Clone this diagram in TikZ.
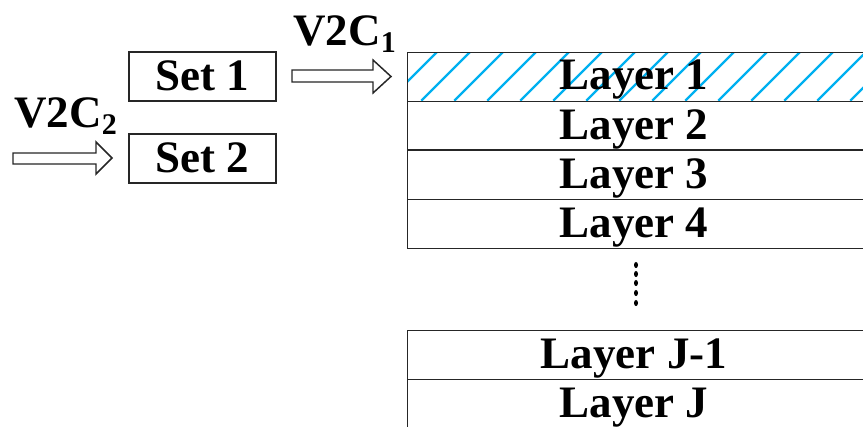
\documentclass[tikz,border=0pt]{standalone}
\usepackage{fontspec}
\setmainfont{Liberation Serif}
\newcommand{\subsz}{\fontsize{22.5}{24}\selectfont}
\definecolor{hatchblue}{RGB}{0,176,240}
\begin{document}
\begin{tikzpicture}[x=0.75pt,y=-0.75pt,
  box/.style={draw=black!85,line width=1.1pt,inner sep=0pt},
  rowbox/.style={box,anchor=north west,minimum width=360pt,minimum height=36.5pt},
  setbox/.style={box,minimum width=110.25pt,minimum height=36.75pt},
  lbl/.style={font=\fontsize{33.75}{36}\selectfont\bfseries,inner sep=0pt},
  blockarrow/.style={draw=black!85,line width=1.1pt,fill=white,line join=miter},
  hatchline/.style={draw=hatchblue,line width=1.7pt}]
\useasboundingbox (0,0) rectangle (863,426);
\clip (0,0) rectangle (863,426);

% diagonal hatching of the first layer
\begin{scope}
  \clip (407,52) rectangle (900,100.7);
  \foreach \k in {-1,...,14}
    \draw[hatchline] ({437+33*\k},52) -- ({437+33*\k-48.7},100.7);
\end{scope}

% layer rows (open on the right)
\node[rowbox] (l1) at (407,52) {};
\node[rowbox] (l2) at (407,100.7) {};
\node[rowbox] (l3) at (407,150) {};
\node[rowbox] (l4) at (407,199) {};
\node[rowbox] (lj1) at (407,330) {};
\node[rowbox] (lj) at (407,379) {};

% layer captions
\node[lbl,anchor=base] (t1) at (634,89.7) {Layer 1};
\node[lbl,anchor=base] (t2) at (634,139) {Layer 2};
\node[lbl,anchor=base] (t3) at (634,188) {Layer 3};
\node[lbl,anchor=base] (t4) at (634,237) {Layer 4};
\node[lbl,anchor=base] (tj1) at (634,368) {Layer J-1};
\node[lbl,anchor=base] (tj) at (634,417) {Layer J};

% vertical ellipsis between the layer groups
\foreach \y in {265,274,283,293,303}
  \fill (636,\y) ellipse (1.5pt and 2.3pt);

% the two sets
\node[setbox] (s1) at (202.5,76.5) {};
\node[setbox] (s2) at (202.5,158.5) {};
\node[lbl,anchor=base] (ts1) at (202,90) {Set 1};
\node[lbl,anchor=base] (ts2) at (202,172) {Set 2};

% block arrows
\draw[blockarrow] (292,70) -- (373,70) -- (373,60) -- (391,76.5) -- (373,93)
  -- (373,82) -- (292,82) -- cycle;
\draw[blockarrow] (13,153) -- (96,153) -- (96,142) -- (112,158) -- (96,174)
  -- (96,164) -- (13,164) -- cycle;

% arrow labels
\node[lbl,anchor=base west] (v1) at (293,45) {V2C\raisebox{-5.25pt}{\subsz 1}};
\node[lbl,anchor=base west] (v2) at (14,127) {V2C\raisebox{-5.25pt}{\subsz 2}};
\end{tikzpicture}
\end{document}
